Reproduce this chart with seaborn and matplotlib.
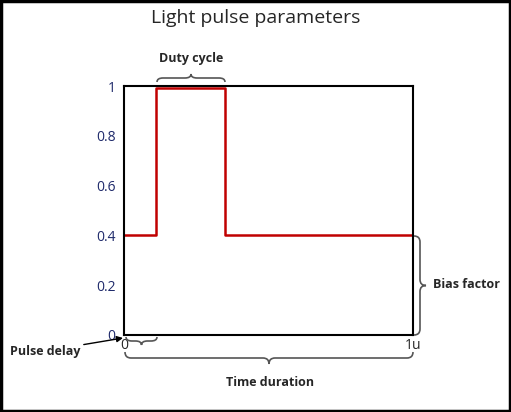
import numpy as np
import matplotlib
matplotlib.use("Agg")
import matplotlib.pyplot as plt
import seaborn as sns
from matplotlib.path import Path
from matplotlib.patches import PathPatch, Rectangle

# pulse shape: time (fraction of 1u) and intensity
pulse_t = [0.0, 0.11, 0.11, 0.35, 0.35, 1.0]
pulse_y = [0.4, 0.4, 0.99, 0.99, 0.4, 0.4]
y_ticks = [0, 0.2, 0.4, 0.6, 0.8, 1]
y_labels = ["0", "0.2", "0.4", "0.6", "0.8", "1"]
x_ticks = [0, 1]
x_labels = ["0", "1u"]

sns.set_style("white")
plt.rcParams['font.family'] = ['Open Sans', 'DejaVu Sans']

fig = plt.figure(figsize=(5.11, 4.12), dpi=100)
ax = fig.add_axes([124 / 511, 1 - 335 / 412, 289 / 511, 249 / 412])
sns.lineplot(x=pulse_t, y=pulse_y, ax=ax, color="#c00000", lw=1.8,
             sort=False, estimator=None)
ax.set_xlim(0, 1)
ax.set_ylim(0, 1)
ax.set_yticks(y_ticks, y_labels, color="#1f2a6b", fontsize=10)
ax.set_xticks(x_ticks, x_labels, fontsize=10)
ax.tick_params(axis="y", length=0, pad=6)
ax.tick_params(axis="x", length=0, pad=2)
for s in ax.spines.values():
    s.set_color("black")
    s.set_linewidth(1.5)

fig.text(0.5, 1 - 18 / 412, "Light pulse parameters", ha="center", va="center", fontsize=14)

# overlay in pixel coordinates for braces and labels
ov = fig.add_axes([0, 0, 1, 1], facecolor="none")
ov.set_xlim(0, 511)
ov.set_ylim(412, 0)
ov.axis("off")
ov.add_patch(Rectangle((1, 1), 509, 410, fill=False, lw=2.5, color="black"))


def brace(a, b, base, h, horizontal=True, color="#555555"):
    r = min(6, abs(b - a) / 4)
    m = (a + b) / 2
    s = np.sign(b - a)
    pts = [(a, 0), (a, h / 2), (a + s * r, h / 2), (m - s * r, h / 2), (m, h / 2), (m, h),
           (m, h / 2), (m + s * r, h / 2), (b - s * r, h / 2), (b, h / 2), (b, 0)]
    codes = [Path.MOVETO, Path.CURVE3, Path.CURVE3, Path.LINETO, Path.CURVE3, Path.CURVE3,
             Path.CURVE3, Path.CURVE3, Path.LINETO, Path.CURVE3, Path.CURVE3]
    if horizontal:
        v = [(x, base + y) for x, y in pts]
    else:
        v = [(base + y, x) for x, y in pts]
    ov.add_patch(PathPatch(Path(v, codes), fill=False, lw=1.2, color=color))


brace(157, 225, 82, -8)
ov.text(191, 58, "Duty cycle", ha="center", va="center", fontsize=9, fontweight="bold")
brace(236, 335, 414, 12, horizontal=False)
ov.text(433, 285, "Bias factor", ha="left", va="center", fontsize=9, fontweight="bold")
brace(126, 157, 337, 8)
brace(125, 413, 352, 12)
ov.text(270, 382, "Time duration", ha="center", va="center", fontsize=9, fontweight="bold")
ov.annotate("Pulse delay", xy=(123, 338), xytext=(10, 351), ha="left", va="center",
            fontsize=9, fontweight="bold",
            arrowprops=dict(arrowstyle="-|>", color="black", lw=1, shrinkA=0, shrinkB=0))

fig.savefig("out.png", dpi=100)
